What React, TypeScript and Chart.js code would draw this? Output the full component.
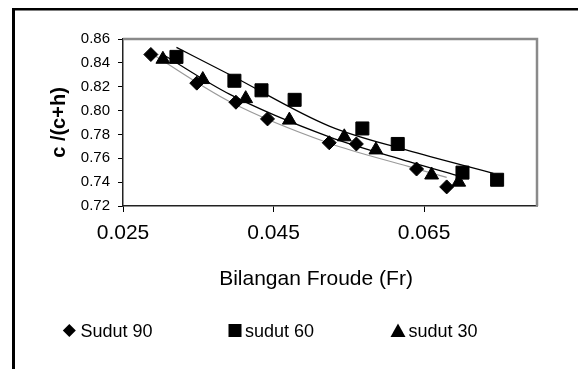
import React, { useEffect, useRef } from "react";
import { Chart, registerables } from "chart.js";

Chart.register(...registerables);

// ---- data ----
const sudut90X = [0.0287, 0.0348, 0.04, 0.0442, 0.0524, 0.056, 0.064, 0.068];
const sudut90Y = [0.847, 0.823, 0.807, 0.793, 0.773, 0.772, 0.751, 0.736];

const sudut60X = [0.0321, 0.0398, 0.0434, 0.0478, 0.0568, 0.0615, 0.0701, 0.0747];
const sudut60Y = [0.845, 0.825, 0.817, 0.809, 0.785, 0.772, 0.748, 0.742];

const sudut30X = [0.0303, 0.0356, 0.0413, 0.0471, 0.0544, 0.0586, 0.066, 0.0696];
const sudut30Y = [0.843, 0.826, 0.81, 0.792, 0.778, 0.767, 0.746, 0.74];

// trend lines
const trend90X = [0.0287, 0.0392, 0.0524, 0.063, 0.068];
const trend90Y = [0.848, 0.8074, 0.7726, 0.753, 0.744];
const trend60X = [0.0321, 0.0392, 0.0524, 0.0626, 0.0742];
const trend60Y = [0.853, 0.83, 0.787, 0.767, 0.7474];
const trend30X = [0.0303, 0.0392, 0.0524, 0.063, 0.0699];
const trend30Y = [0.847, 0.8136, 0.778, 0.7572, 0.7446];

const xTicks = [0.025, 0.045, 0.065];
const yTicks = [0.72, 0.74, 0.76, 0.78, 0.8, 0.82, 0.84, 0.86];
const xMin = 0.025;
const xMax = 0.08;
const yMin = 0.72;
const yMax = 0.86;

const legendLabels = ["Sudut 90", "sudut 60", "sudut 30"];
const xTitle = "Bilangan Froude (Fr)";
const yTitle = "c /(c+h)";

const FONT = "'Liberation Sans', Arial, Helvetica, sans-serif";

const zip = (xs: number[], ys: number[]) => xs.map((x, i) => ({ x, y: ys[i] }));

const decorPlugin = {
  id: "decor",
  beforeDatasetsDraw(chart: any) {
    const { ctx, chartArea } = chart;
    const { left, top, right, bottom } = chartArea;
    ctx.save();
    ctx.strokeStyle = "#8a8a8a";
    ctx.lineWidth = 2.5;
    ctx.beginPath();
    ctx.moveTo(left, top);
    ctx.lineTo(right, top);
    ctx.lineTo(right, bottom);
    ctx.stroke();
    ctx.restore();
  },
  afterDraw(chart: any) {
    const { ctx } = chart;
    ctx.save();
    // outer frame
    ctx.fillStyle = "#000";
    ctx.fillRect(12, 8, 3, 361);
    ctx.fillRect(12, 8, 566, 2.5);

    // axis titles
    ctx.fillStyle = "#000";
    ctx.font = `21px ${FONT}`;
    ctx.textAlign = "center";
    ctx.textBaseline = "alphabetic";
    ctx.fillText(xTitle, 316, 285);

    ctx.save();
    ctx.translate(59.5, 122.5);
    ctx.rotate(-Math.PI / 2);
    ctx.font = `bold 20px ${FONT}`;
    ctx.textBaseline = "middle";
    ctx.fillText(yTitle, 0, 0);
    ctx.restore();

    // legend
    const ly = 330.5;
    ctx.fillStyle = "#000";
    // diamond
    ctx.beginPath();
    ctx.moveTo(69.3, ly - 6.5);
    ctx.lineTo(75.8, ly);
    ctx.lineTo(69.3, ly + 6.5);
    ctx.lineTo(62.8, ly);
    ctx.closePath();
    ctx.fill();
    // square
    ctx.fillRect(228.5, ly - 6.5, 13, 13);
    // triangle
    ctx.beginPath();
    ctx.moveTo(398, ly - 7);
    ctx.lineTo(405.5, ly + 6.5);
    ctx.lineTo(390.5, ly + 6.5);
    ctx.closePath();
    ctx.fill();

    ctx.font = `18px ${FONT}`;
    ctx.textAlign = "left";
    ctx.textBaseline = "alphabetic";
    ctx.fillText(legendLabels[0], 80.4, 337);
    ctx.fillText(legendLabels[1], 245, 337);
    ctx.fillText(legendLabels[2], 408.4, 337);
    ctx.restore();
  },
};

export default function App() {
  const ref = useRef<HTMLCanvasElement | null>(null);

  useEffect(() => {
    if (!ref.current) return;
    const markerCommon = {
      showLine: false,
      backgroundColor: "#000",
      borderColor: "#000",
      pointBackgroundColor: "#000",
      pointBorderColor: "#000",
      pointBorderWidth: 1,
      order: 0,
    };
    const trendCommon = {
      showLine: true,
      pointRadius: 0,
      borderWidth: 1.2,
      cubicInterpolationMode: "monotone" as const,
      fill: false,
      order: 1,
    };
    const chart = new Chart(ref.current, {
      type: "scatter",
      data: {
        datasets: [
          { ...trendCommon, label: "t90", data: zip(trend90X, trend90Y), borderColor: "#9a9a9a" },
          { ...trendCommon, label: "t60", data: zip(trend60X, trend60Y), borderColor: "#000" },
          { ...trendCommon, label: "t30", data: zip(trend30X, trend30Y), borderColor: "#000" },
          { ...markerCommon, label: legendLabels[0], data: zip(sudut90X, sudut90Y), pointStyle: "rectRot", pointRadius: 7 },
          { ...markerCommon, label: legendLabels[1], data: zip(sudut60X, sudut60Y), pointStyle: "rect", pointRadius: 9.2 },
          { ...markerCommon, label: legendLabels[2], data: zip(sudut30X, sudut30Y), pointStyle: "triangle", pointRadius: 8 },
        ],
      },
      options: {
        animation: false,
        responsive: false,
        maintainAspectRatio: false,
        layout: { padding: { left: 0, top: 39, right: 41, bottom: 0 } },
        plugins: {
          legend: { display: false },
          tooltip: { enabled: false },
          title: { display: false },
        },
        scales: {
          x: {
            type: "linear",
            min: xMin,
            max: xMax,
            afterBuildTicks: (scale: any) => {
              scale.ticks = xTicks.map((v) => ({ value: v }));
            },
            afterFit: (scale: any) => {
              scale.height = 163;
            },
            ticks: {
              color: "#000",
              font: { family: FONT, size: 21 },
              padding: 9,
              maxRotation: 0,
              callback: (v: any) => Number(v).toFixed(3),
            },
            grid: {
              display: true,
              drawOnChartArea: false,
              drawTicks: true,
              tickLength: 6,
              color: "#000",
            },
            border: { display: true, color: "#222", width: 1.5 },
          },
          y: {
            type: "linear",
            min: yMin,
            max: yMax,
            afterBuildTicks: (scale: any) => {
              scale.ticks = yTicks.map((v) => ({ value: v }));
            },
            afterFit: (scale: any) => {
              scale.width = 123;
            },
            ticks: {
              color: "#000",
              font: { family: FONT, size: 15 },
              padding: 8,
              callback: (v: any) => Number(v).toFixed(2),
            },
            grid: {
              display: true,
              drawOnChartArea: false,
              drawTicks: true,
              tickLength: 5,
              color: "#000",
            },
            border: { display: true, color: "#222", width: 1.5 },
          },
        },
      },
      plugins: [decorPlugin],
    });
    return () => chart.destroy();
  }, []);

  return (
    <div style={{ position: "fixed", left: 0, top: 0, width: 578, height: 369, background: "#fff" }}>
      <canvas ref={ref} width={578} height={369} style={{ width: 578, height: 369, display: "block" }} />
    </div>
  );
}
